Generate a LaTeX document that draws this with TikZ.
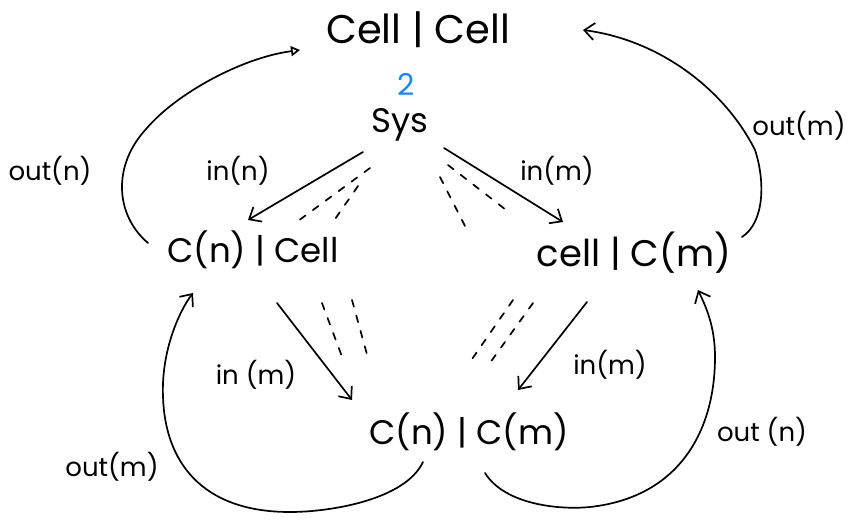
\documentclass[tikz,border=0pt]{standalone}
\usepackage{fontspec}
\setmainfont{Poppins}
\usetikzlibrary{arrows.meta}
\definecolor{inkblue}{RGB}{25,135,245}
\begin{document}
\begin{tikzpicture}[x=1pt,y=-1pt,
  state/.style={font=\fontsize{34}{40}\selectfont, inner sep=0pt},
  lbl/.style={font=\fontsize{26}{30}\selectfont, inner sep=0pt},
  link/.style={line width=1.7pt, line cap=round, line join=round,
    -{Straight Barb[length=10pt,width=17pt,line width=1.7pt]}},
  ghost/.style={line width=1.7pt, line cap=round, dash pattern=on 7pt off 9pt}]
\useasboundingbox (0,0) rectangle (851,520);

% states
\node[state, font=\fontsize{40}{46}\selectfont] (top) at (418,30) {Cell | Cell};
\node[font=\fontsize{30}{34}\selectfont, text=inkblue, inner sep=0pt] (iso) at (406,84) {2};
\node[state] (sys) at (400,125) {Sys};
\node[state] (cl) at (253,250) {C(n) | Cell};
\node[state, font=\fontsize{37}{43}\selectfont] (cr) at (634,253) {cell | C(m)};
\node[state] (cb) at (469,432) {C(n) | C(m)};

% straight inputs
\draw[link] ([shift={(-37,27)}]sys.center) -- ([shift={(-5,-30)}]cl.center);
\draw[link] ([shift={(44,23)}]sys.center) -- ([shift={(-71,-31)}]cr.center);
\draw[link] ([shift={(24,53)}]cl.center) -- ([shift={(-117,-32)}]cb.center);
\draw[link] ([shift={(-47,49)}]cr.center) -- ([shift={(49,-42)}]cb.center);

% outputs looping back
\draw[line width=1.7pt, line cap=round, -{Triangle[open,length=9pt,width=10pt,line width=1.7pt]}]
  ([shift={(-105,-7)}]cl.center) .. controls (115,215) and (112,165) .. (147,128)
  .. controls (175,95) and (240,58) .. ([shift={(-118,20)}]top.center);
\draw[link]
  ([shift={(108,-16)}]cr.center) .. controls (765,222) and (765,180) .. (755,150)
  .. controls (725,90) and (660,40) .. ([shift={(165,0)}]top.center);
\draw[link]
  ([shift={(-46,30)}]cb.center) .. controls (405,500) and (330,512) .. (290,512)
  .. controls (200,512) and (165,460) .. (163,397)
  .. controls (161,350) and (180,310) .. ([shift={(-60,43)}]cl.center);
\draw[link]
  ([shift={(16,41)}]cb.center) .. controls (505,505) and (560,510) .. (590,507)
  .. controls (680,497) and (715,430) .. (715,357)
  .. controls (715,325) and (705,305) .. ([shift={(64,37)}]cr.center);

% faint dashed companions
\draw[ghost] (370,168) -- (298,221);
\draw[ghost] (358,186) -- (333,222);
\draw[ghost] (440,177) -- (466,228);
\draw[ghost] (448,165) -- (510,213);
\draw[ghost] (322,303) -- (344,362);
\draw[ghost] (352,300) -- (368,358);
\draw[ghost] (513,300) -- (470,362);
\draw[ghost] (533,303) -- (487,367);

% labels
\node[lbl] (l1) at (50,171) {out(n)};
\node[lbl] (l2) at (238,171) {in(n)};
\node[lbl] (l3) at (557,171) {in(m)};
\node[lbl] (l4) at (799,126) {out(m)};
\node[lbl] (l5) at (256,375) {in (m)};
\node[lbl] (l6) at (610,365) {in(m)};
\node[lbl] (l7) at (112,467) {out(m)};
\node[lbl] (l8) at (762,432) {out (n)};
\end{tikzpicture}
\end{document}
